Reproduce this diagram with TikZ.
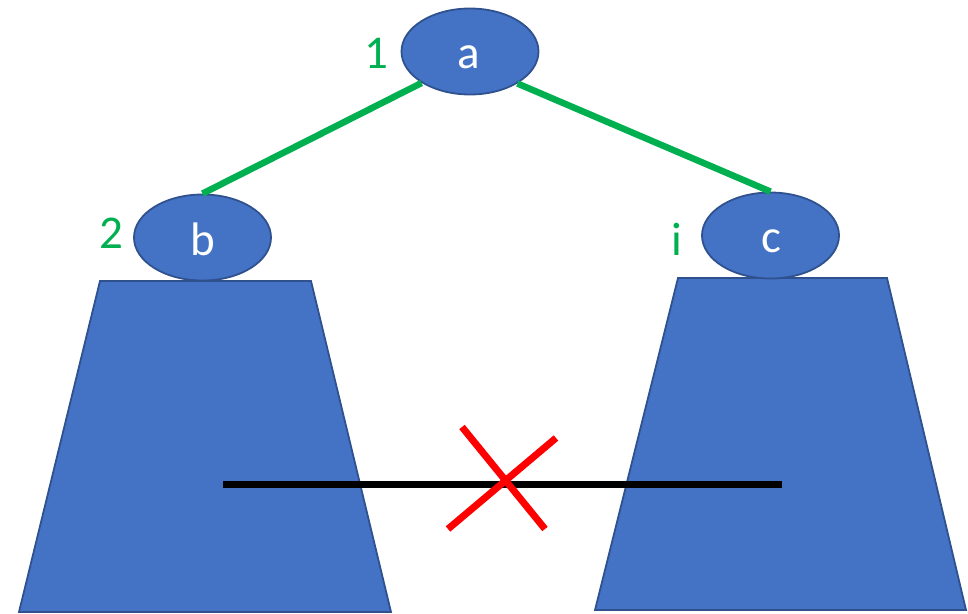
\documentclass[tikz,border=0pt]{standalone}
\usepackage{fontspec}
\setmainfont{Carlito}
\usetikzlibrary{shapes.geometric}
\definecolor{nodeblue}{HTML}{4472C4}
\definecolor{nodeedge}{HTML}{2F528F}
\definecolor{edgegreen}{HTML}{00B050}
\definecolor{crossred}{HTML}{FF0000}
\tikzset{
  treenode/.style={ellipse, fill=nodeblue, draw=nodeedge, line width=1.8pt,
    minimum width=137pt, minimum height=86pt, inner sep=0pt},
  subtree/.style={fill=nodeblue, draw=nodeedge, line width=1.8pt, line join=miter},
  nodetext/.style={text=white, anchor=base, inner sep=0pt, font=\fontsize{47}{56}\selectfont},
  numtext/.style={text=edgegreen, anchor=base, inner sep=0pt, font=\fontsize{47}{56}\selectfont},
  treeedge/.style={draw=edgegreen, line width=6.5pt},
  pathline/.style={draw=black, line width=7pt},
  crossline/.style={draw=crossred, line width=7pt}
}
\begin{document}
\begin{tikzpicture}[x=1pt,y=-1pt]
\useasboundingbox (0,0) rectangle (968,613);
% subtrees
\path[subtree] (100,281) -- (311,281) -- (391,612) -- (19,612) -- cycle;
\path[subtree] (678,278) -- (887,278) -- (966,610) -- (595,610) -- cycle;
% nodes
\node[treenode] (a) at (470,51.5) {};
\node[treenode] (b) at (202.5,237.5) {};
\node[treenode] (c) at (770.5,235.5) {};
% edges
\draw[treeedge] (a.213) -- (b.north);
\draw[treeedge] (a.326) -- (c.north);
% labels
\node[nodetext] (la) at (469,68) {a};
\node[nodetext] (lb) at (203,255) {b};
\node[nodetext] (lc) at (771,252) {c};
\node[numtext] (n1) at (376,68) {1};
\node[numtext] (n2) at (111,248) {2};
\node[numtext] (ni) at (677,255) {i};
% path across subtrees
\coordinate (p1) at (223,484);
\coordinate (p2) at (782,484);
\draw[pathline] (p1) -- (p2);
% cross
\coordinate (x1) at (462,427);
\coordinate (x2) at (545,529);
\coordinate (x3) at (556,438);
\coordinate (x4) at (448,529);
\draw[crossline] (x1) -- (x2);
\draw[crossline] (x3) -- (x4);
\end{tikzpicture}
\end{document}
